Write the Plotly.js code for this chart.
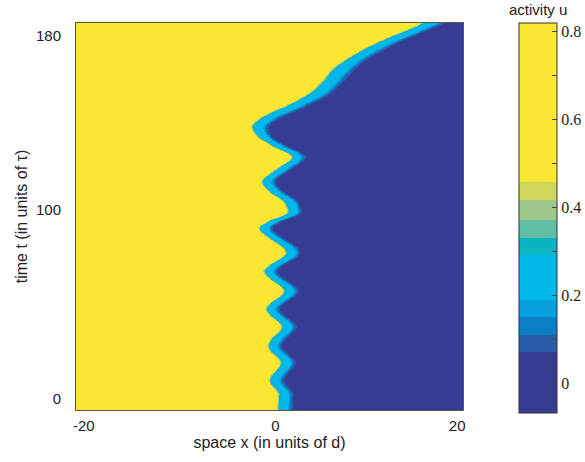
<!DOCTYPE html>
<html>
<head>
<meta charset="utf-8">
<script src="https://cdn.plot.ly/plotly-3.0.1.min.js"></script>
<style>
html,body{margin:0;padding:0;background:#fff;}
#chart{width:585px;height:462px;}
</style>
</head>
<body>
<div id="chart"></div>
<script>
// Front (cyan ridge) position: time t -> space x
const frontT = [-5.45, 2.5, 9.4, 18.3, 26.8, 35.7, 44.6, 53.6, 63.5, 72.9, 85.3, 92.9, 97.2, 103.6, 107.7, 114.5, 120.1, 125.9, 130.9, 135.0, 139.3, 143.3, 147.4, 152.4, 157.3, 163.1, 168.1, 173.1, 178.0, 182.1, 186.4];
const frontX = [1.40, 1.50, 0.57, 1.71, 0.36, 1.81, 0.16, 2.02, -0.05, 2.22, -0.54, 2.43, 2.12, 0.36, -0.26, 1.40, 2.84, 0.78, -0.78, -1.19, -0.26, 1.40, 3.46, 5.22, 6.25, 7.29, 8.63, 10.39, 12.45, 14.52, 16.59];
// apparent horizontal width of the front band (relative)
const frontW = [1.0, 1.0, 1.0, 1.0, 1.0, 1.0, 1.0, 1.0, 1.0, 1.0, 1.0, 1.0, 1.0, 1.0, 1.0, 1.0, 1.0, 1.0, 1.0, 1.1, 1.4, 1.5, 1.5, 1.5, 1.5, 1.5, 1.5, 1.5, 1.5, 1.5, 1.5];

// activity u across the front, vs distance from the front (units of d)
const profileD = [-40, -1.9, -1.1, -0.75, -0.5, -0.35, 0.0, 0.42, 0.56, 0.7, 0.9, 1.25, 2.5, 40];
const profileU = [0.80, 0.80, 0.70, 0.50, 0.33, 0.29, 0.25, 0.19, 0.15, 0.11, 0.07, 0.03, 0.0, -0.03];

// discrete colour levels of the colour bar
const levelEdges = [-0.068, 0.070, 0.109, 0.150, 0.189, 0.291, 0.330, 0.371, 0.417, 0.458, 0.82];
const levelColors = ['#363b93', '#2a5caa', '#0b7fc6', '#049fdd', '#00b7ec', '#0cb3c3', '#5fbea3', '#9fc98a', '#cfd65b', '#fbe632'];

const xTickVals = [-19.2, 0.6, 19.4];
const xTickText = ['-20', '0', '20'];
const yTickVals = [0, 93.7, 180];
const yTickText = ['0', '100', '180'];
const cbTickVals = [0, 0.1, 0.2, 0.3, 0.4, 0.5, 0.6, 0.7, 0.8];
const cbTickText = ['0', '', '0.2', '', '0.4', '', '0.6', '', '0.8'];

function interp(xa, ya, v) {
  if (v <= xa[0]) return ya[0];
  const n = xa.length;
  if (v >= xa[n - 1]) return ya[n - 1];
  for (let i = 1; i < n; i++) {
    if (v <= xa[i]) {
      const f = (v - xa[i - 1]) / (xa[i] - xa[i - 1]);
      return ya[i - 1] + f * (ya[i] - ya[i - 1]);
    }
  }
  return ya[n - 1];
}

// smooth (monotone cubic Hermite) curve through the read front points
function pchipSlopes(xa, ya) {
  const n = xa.length, h = [], d = [], m = new Array(n).fill(0);
  for (let i = 0; i < n - 1; i++) { h[i] = xa[i + 1] - xa[i]; d[i] = (ya[i + 1] - ya[i]) / h[i]; }
  m[0] = d[0]; m[n - 1] = d[n - 2];
  for (let i = 1; i < n - 1; i++) {
    if (d[i - 1] * d[i] <= 0) m[i] = 0;
    else {
      const w1 = 2 * h[i] + h[i - 1], w2 = h[i] + 2 * h[i - 1];
      m[i] = (w1 + w2) / (w1 / d[i - 1] + w2 / d[i]);
    }
  }
  return m;
}
function pchip(xa, ya, m, v) {
  const n = xa.length;
  if (v <= xa[0]) return ya[0];
  if (v >= xa[n - 1]) return ya[n - 1];
  let i = 0;
  while (v > xa[i + 1]) i++;
  const h = xa[i + 1] - xa[i], s = (v - xa[i]) / h;
  const h00 = 2 * s * s * s - 3 * s * s + 1, h10 = s * s * s - 2 * s * s + s;
  const h01 = -2 * s * s * s + 3 * s * s, h11 = s * s * s - s * s;
  return h00 * ya[i] + h10 * h * m[i] + h01 * ya[i + 1] + h11 * h * m[i + 1];
}

// sampling grid
const xs = [];
for (let x = -20; x <= 20.0001; x += 0.1) xs.push(+x.toFixed(2));
const ts = [];
for (let t = -5.5; t <= 186.6; t += 0.5) ts.push(+t.toFixed(2));

const mFront = pchipSlopes(frontT, frontX);
const Z = ts.map(t => {
  const f = pchip(frontT, frontX, mFront, t);
  const w = interp(frontT, frontW, t);
  return xs.map(x => interp(profileD, profileU, (x - f) / w));
});

const cmin = levelEdges[0], cmax = levelEdges[levelEdges.length - 1];
const cs = [];
levelColors.forEach((c, i) => {
  cs.push([(levelEdges[i] - cmin) / (cmax - cmin), c]);
  cs.push([(levelEdges[i + 1] - cmin) / (cmax - cmin), c]);
});
cs[0][0] = 0; cs[cs.length - 1][0] = 1;

const trace = {
  type: 'heatmap',
  x: xs, y: ts, z: Z,
  zmin: cmin, zmax: cmax,
  colorscale: cs,
  zsmooth: 'best',
  hoverinfo: 'skip',
  colorbar: {
    thickness: 38, thicknessmode: 'pixels',
    len: 390, lenmode: 'pixels',
    x: (519 - 76) / 387, xanchor: 'left', xpad: 0,
    y: 1, yanchor: 'top', ypad: 0,
    outlinewidth: 1, outlinecolor: '#333',
    borderwidth: 0,
    tickmode: 'array', tickvals: cbTickVals, ticktext: cbTickText,
    ticks: 'inside', ticklen: 5, tickcolor: '#444', tickwidth: 1,
    tickfont: {family: 'Liberation Serif', size: 16, color: '#222'}
  }
};

const layout = {
  width: 585, height: 462,
  margin: {l: 76, r: 122, t: 23, b: 52, pad: 0, autoexpand: false},
  paper_bgcolor: '#fff', plot_bgcolor: '#fff',
  font: {family: 'Liberation Sans, Arial, sans-serif', color: '#222'},
  xaxis: {
    range: [-20, 20], tickmode: 'array', tickvals: xTickVals, ticktext: xTickText,
    ticks: '', showgrid: false, zeroline: false,
    showline: true, mirror: true, linecolor: '#555', linewidth: 1,
    tickfont: {size: 15, color: '#222'}, ticklabelstandoff: 2,
    automargin: false,
    title: {text: 'space x (in units of d)', font: {size: 16, color: '#222'}, standoff: 1}
  },
  yaxis: {
    range: [-5.45, 186.4], tickmode: 'array', tickvals: yTickVals, ticktext: yTickText,
    ticks: '', showgrid: false, zeroline: false,
    showline: true, mirror: true, linecolor: '#555', linewidth: 1,
    tickfont: {size: 15, color: '#222'}, ticklabelstandoff: 11,
    automargin: false,
    title: {text: 'time t (in units of τ)', font: {size: 16, color: '#222'}, standoff: 4}
  },
  annotations: [{
    text: 'activity u', xref: 'paper', yref: 'paper',
    x: (537.5 - 76) / 387, y: (410 - 9) / 387, xanchor: 'center', yanchor: 'middle',
    showarrow: false, font: {family: 'Liberation Sans', size: 15, color: '#222'}
  }]
};

Plotly.newPlot('chart', [trace], layout, {displayModeBar: false, staticPlot: true});
</script>
</body>
</html>
